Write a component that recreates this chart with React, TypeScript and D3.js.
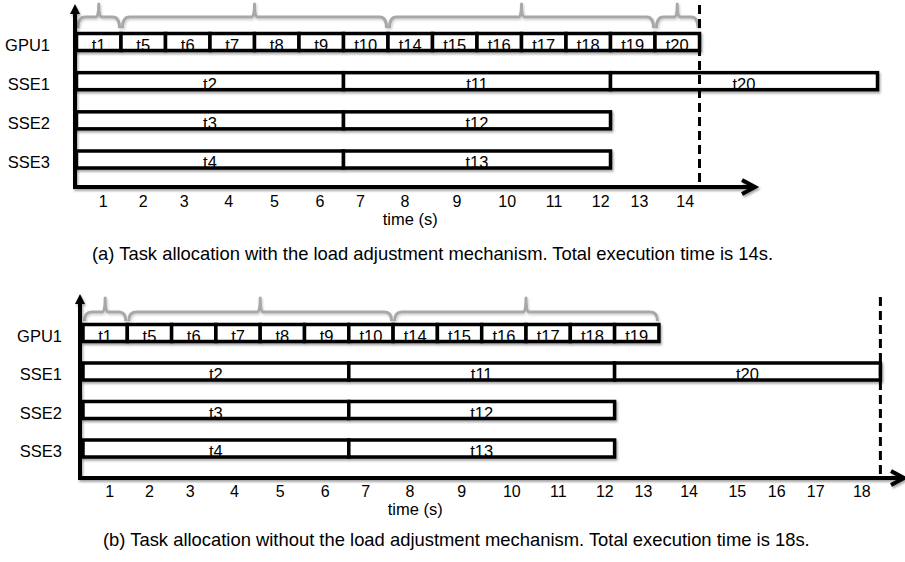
import React from "react";
import * as d3 from "d3";

// Processing units, top to bottom
const ROWS = ["GPU1", "SSE1", "SSE2", "SSE3"];

// Tasks executed on the GPU, each taking one second
const GPU_TASKS_A = ["t1", "t5", "t6", "t7", "t8", "t9", "t10", "t14", "t15", "t16", "t17", "t18", "t19", "t20"];
const GPU_TASKS_B = ["t1", "t5", "t6", "t7", "t8", "t9", "t10", "t14", "t15", "t16", "t17", "t18", "t19"];
const GPU_TASK_SECONDS = 1;

// Tasks executed on the SSE cores, each taking six seconds
const SSE1_TASKS = ["t2", "t11", "t20"];
const SSE2_TASKS = ["t3", "t12"];
const SSE3_TASKS = ["t4", "t13"];
const SSE_TASK_SECONDS = 6;

// GPU batches marked with braces: [start, end] in seconds
const BATCHES_A: [number, number][] = [[0, 1], [1, 7], [7, 13], [13, 14]];
const BATCHES_B: [number, number][] = [[0, 1], [1, 7], [7, 13]];

// Time axis labels and where they sit (seconds)
const TICK_LABELS = ["1", "2", "3", "4", "5", "6", "7", "8", "9", "10", "11", "12", "13", "14", "15", "16", "17", "18"];
const TICK_AT = [0.6, 1.5, 2.42, 3.42, 4.45, 5.47, 6.38, 7.38, 8.55, 9.68, 10.73, 11.78, 12.65, 13.68, 14.77, 15.66, 16.54, 17.58];

const TOTAL_A = 14;
const TOTAL_B = 18;

const CAPTION_A = "(a) Task allocation with the load adjustment mechanism. Total execution time is 14s.";
const CAPTION_B = "(b) Task allocation without the load adjustment mechanism. Total execution time is 18s.";

const FONT = "'Liberation Sans', Arial, Helvetica, sans-serif";

type Task = { row: string; name: string; start: number; end: number };

function sequence(row: string, names: string[], seconds: number): Task[] {
  let t = 0;
  return names.map((name) => {
    const task = { row, name, start: t, end: t + seconds };
    t += seconds;
    return task;
  });
}

type Layout = {
  x0: number;
  pxPerSec: number;
  rowTop: number;
  rowBottom: number;
  axisX: number;
  axisY: number;
  arrowTop: number;
  xAxisEnd: number;
  labelRight: number;
  braceLine: number;
  bracePeak: number;
  braceEnd: number;
  dashTop: number;
  tickBaseline: number;
  timeBaseline: number;
  captionX: number;
  captionBaseline: number;
};

function bracePath(x0: number, x1: number, yEnd: number, yLine: number, yPeak: number) {
  const xm = (x0 + x1) / 2;
  const r = Math.min(7, (x1 - x0) / 4);
  const p = d3.path();
  p.moveTo(x0, yEnd);
  p.quadraticCurveTo(x0, yLine, x0 + r, yLine);
  p.lineTo(xm - 3, yLine);
  p.quadraticCurveTo(xm, yLine, xm, yPeak);
  p.quadraticCurveTo(xm, yLine, xm + 3, yLine);
  p.lineTo(x1 - r, yLine);
  p.quadraticCurveTo(x1, yLine, x1, yEnd);
  return p.toString();
}

const LABEL_SIZE = 16.5;

function Panel({
  id,
  layout: L,
  gpuTasks,
  batches,
  total,
  ticks,
  caption,
}: {
  id: string;
  layout: Layout;
  gpuTasks: string[];
  batches: [number, number][];
  total: number;
  ticks: number;
  caption: string;
}) {
  const x = d3.scaleLinear().domain([0, 18]).range([L.x0, L.x0 + 18 * L.pxPerSec]);
  const y = d3.scalePoint<string>().domain(ROWS).range([L.rowTop, L.rowBottom]);

  const tasks: Task[] = [
    ...sequence("GPU1", gpuTasks, GPU_TASK_SECONDS),
    ...sequence("SSE1", SSE1_TASKS, SSE_TASK_SECONDS),
    ...sequence("SSE2", SSE2_TASKS, SSE_TASK_SECONDS),
    ...sequence("SSE3", SSE3_TASKS, SSE_TASK_SECONDS),
  ];

  const boxH = 17;
  const xEnd = L.xAxisEnd;

  return (
    <g>
      {/* batch braces above the GPU row */}
      <g filter={`url(#soft-${id})`}>
        {batches.map(([a, b], i) => (
          <path
            key={i}
            d={bracePath(x(a) + 1.5, x(b) - 1.5, L.braceEnd, L.braceLine, L.bracePeak)}
            fill="none"
            stroke="#a8a8a8"
            strokeWidth={3}
            strokeLinejoin="round"
          />
        ))}
      </g>

      {/* axes */}
      <g filter={`url(#shadow-${id})`}>
        <line x1={L.axisX} x2={L.axisX} y1={L.axisY + 2} y2={L.arrowTop + 6} stroke="#000" strokeWidth={4} />
        <path
          d={`M${L.axisX},${L.arrowTop} L${L.axisX + 5},${L.arrowTop + 10} L${L.axisX - 5},${L.arrowTop + 10} Z`}
          fill="#000"
        />
        <line x1={L.axisX - 2} x2={xEnd - 2} y1={L.axisY} y2={L.axisY} stroke="#000" strokeWidth={4} />
        <path
          d={`M${xEnd - 14},${L.axisY - 7} L${xEnd - 1},${L.axisY} L${xEnd - 14},${L.axisY + 7}`}
          fill="none"
          stroke="#000"
          strokeWidth={4}
          strokeLinejoin="miter"
        />
      </g>

      {/* task boxes */}
      <g filter={`url(#shadow-${id})`}>
        {tasks.map((t) => (
          <rect
            key={t.row + t.name}
            x={x(t.start)}
            y={(y(t.row) as number) - boxH / 2}
            width={x(t.end) - x(t.start)}
            height={boxH}
            fill="#fff"
            stroke="#000"
            strokeWidth={3.5}
          />
        ))}
      </g>
      {tasks.map((t) => (
        <text
          key={"l" + t.row + t.name}
          x={(x(t.start) + x(t.end)) / 2}
          y={(y(t.row) as number) + 8.5}
          textAnchor="middle"
          fontSize={LABEL_SIZE}
        >
          {t.name}
        </text>
      ))}

      {/* row labels */}
      {ROWS.map((r) => (
        <text key={r} x={L.labelRight} y={(y(r) as number) + 8.5} textAnchor="end" fontSize={LABEL_SIZE}>
          {r}
        </text>
      ))}

      {/* total execution time marker */}
      <line
        x1={x(total)}
        x2={x(total)}
        y1={L.dashTop}
        y2={L.axisY}
        stroke="#000"
        strokeWidth={3}
        strokeDasharray="9,5"
      />

      {/* time ticks */}
      {TICK_LABELS.slice(0, ticks).map((lab, i) => (
        <text key={lab} x={x(TICK_AT[i])} y={L.tickBaseline} textAnchor="middle" fontSize={16}>
          {lab}
        </text>
      ))}
      <text x={x(7.5)} y={L.timeBaseline} textAnchor="middle" fontSize={16.5}>
        time (s)
      </text>

      <text x={L.captionX} y={L.captionBaseline} fontSize={18.4}>
        {caption}
      </text>
    </g>
  );
}

const LAYOUT_A: Layout = {
  x0: 76.5,
  pxPerSec: 44.5,
  rowTop: 42,
  rowBottom: 159.5,
  axisX: 75,
  axisY: 187,
  arrowTop: 4,
  xAxisEnd: 756,
  labelRight: 50,
  braceLine: 17,
  bracePeak: 4,
  braceEnd: 28,
  dashTop: 5,
  tickBaseline: 207,
  timeBaseline: 225,
  captionX: 92,
  captionBaseline: 260,
};

const LAYOUT_B: Layout = {
  x0: 83,
  pxPerSec: 44.3,
  rowTop: 333,
  rowBottom: 448.5,
  axisX: 80,
  axisY: 478,
  arrowTop: 294,
  xAxisEnd: 905,
  labelRight: 62,
  braceLine: 312,
  bracePeak: 298,
  braceEnd: 321,
  dashTop: 297,
  tickBaseline: 497,
  timeBaseline: 515,
  captionX: 103,
  captionBaseline: 546,
};

export default function App() {
  return (
    <svg
      width={905}
      height={562}
      viewBox="0 0 905 562"
      style={{ position: "absolute", left: 0, top: 0, display: "block", background: "#fff" }}
      fontFamily={FONT}
    >
      <defs>
        {["a", "b"].map((id) => (
          <React.Fragment key={id}>
            <filter id={`shadow-${id}`} x="-5%" y="-20%" width="110%" height="150%">
              <feDropShadow dx="1.2" dy="2" stdDeviation="1.3" floodColor="#000" floodOpacity="0.35" />
            </filter>
            <filter id={`soft-${id}`} x="-5%" y="-30%" width="110%" height="170%">
              <feDropShadow dx="1" dy="1.5" stdDeviation="1" floodColor="#000" floodOpacity="0.2" />
            </filter>
          </React.Fragment>
        ))}
      </defs>
      <rect width={905} height={562} fill="#fff" />
      <Panel
        id="a"
        layout={LAYOUT_A}
        gpuTasks={GPU_TASKS_A}
        batches={BATCHES_A}
        total={TOTAL_A}
        ticks={14}
        caption={CAPTION_A}
      />
      <Panel
        id="b"
        layout={LAYOUT_B}
        gpuTasks={GPU_TASKS_B}
        batches={BATCHES_B}
        total={TOTAL_B}
        ticks={18}
        caption={CAPTION_B}
      />
    </svg>
  );
}
